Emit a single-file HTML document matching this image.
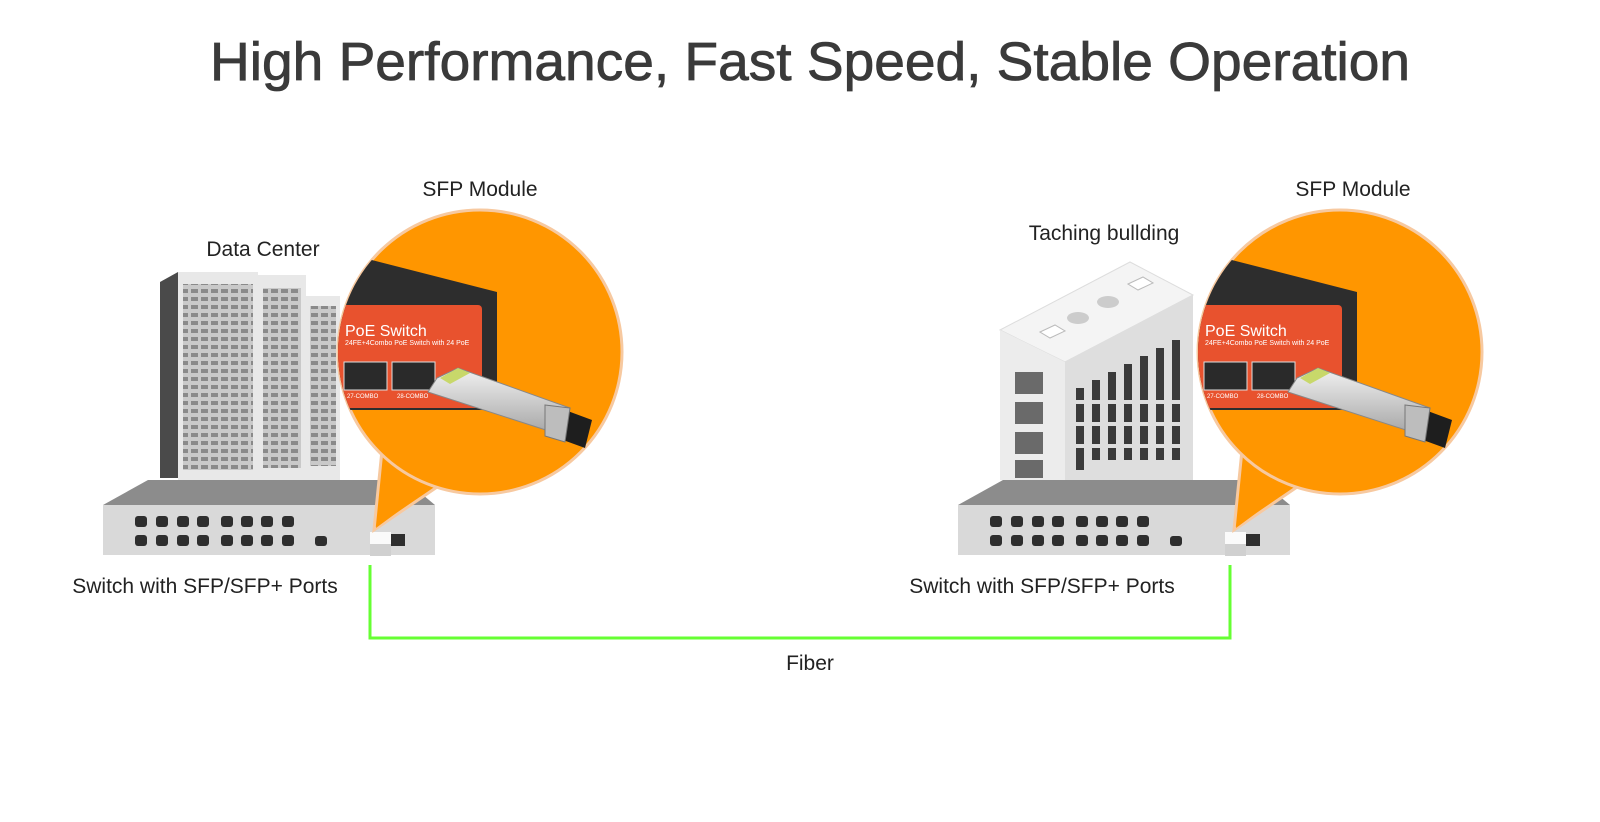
<!DOCTYPE html>
<html><head><meta charset="utf-8"><style>
html,body{margin:0;padding:0;background:#fff;width:1600px;height:822px;overflow:hidden}
svg{display:block}
text{font-family:"Liberation Sans",Arial,sans-serif}
</style></head><body>
<svg width="1600" height="822" viewBox="0 0 1600 822" xmlns="http://www.w3.org/2000/svg">
<defs>
<pattern id="rk" width="10" height="8" patternUnits="userSpaceOnUse">
<rect width="10" height="8" fill="#c9c9c9"/><rect x="1" y="1" width="7" height="4" fill="#8a8a8a"/>
</pattern>
<clipPath id="c1"><circle cx="480" cy="352" r="142"/></clipPath>
<linearGradient id="sv" x1="0" y1="0" x2="0" y2="1"><stop offset="0" stop-color="#f2f2f2"/><stop offset="1" stop-color="#a8a8a8"/></linearGradient>
</defs>

<text x="810" y="80" font-size="54" fill="#3a3a3a" stroke="#3a3a3a" stroke-width="0.8" text-anchor="middle" textLength="1200" lengthAdjust="spacingAndGlyphs">High Performance, Fast Speed, Stable Operation</text>

<!-- Server racks -->
<polygon points="160,282 178,272 178,478 160,478" fill="#4a4a4a"/>
<rect x="178" y="272" width="80" height="208" fill="#e8e8e8"/>
<rect x="183" y="284" width="70" height="186" fill="url(#rk)"/>
<rect x="258" y="275" width="48" height="205" fill="#e8e8e8"/>
<rect x="263" y="288" width="38" height="180" fill="url(#rk)"/>
<rect x="306" y="296" width="34" height="184" fill="#e8e8e8"/>
<rect x="310" y="306" width="26" height="160" fill="url(#rk)"/>

<!-- Building -->
<polygon points="1000,330 1130,262 1193,295 1065,362" fill="#f4f4f4" stroke="#ddd"/>
<polygon points="1000,330 1065,362 1065,480 1000,480" fill="#ececec"/>
<polygon points="1065,362 1193,295 1193,480 1065,480" fill="#dedede"/>
<g fill="#6a6a6a"><rect x="1015" y="372" width="28" height="22"/><rect x="1015" y="402" width="28" height="22"/><rect x="1015" y="432" width="28" height="22"/><rect x="1015" y="460" width="28" height="18"/></g>
<g fill="#3a3a3a">
<rect x="1092" y="380" width="8" height="80"/><rect x="1108" y="372" width="8" height="88"/><rect x="1124" y="364" width="8" height="96"/><rect x="1140" y="356" width="8" height="104"/><rect x="1156" y="348" width="8" height="112"/><rect x="1172" y="340" width="8" height="120"/><rect x="1076" y="388" width="8" height="82"/>
</g>
<g fill="#dedede"><rect x="1070" y="400" width="115" height="4"/><rect x="1070" y="422" width="115" height="4"/><rect x="1070" y="444" width="115" height="4"/></g>
<ellipse cx="1078" cy="318" rx="11" ry="6" fill="#ccc"/><ellipse cx="1108" cy="302" rx="11" ry="6" fill="#ccc"/>
<polygon points="1040,332 1055,325 1065,331 1050,338" fill="#fff" stroke="#bbb"/>
<polygon points="1128,284 1143,277 1153,283 1138,290" fill="#fff" stroke="#bbb"/>

<!-- Switches -->
<g id="sw">
<polygon points="148,480 405,480 435,505 103,505" fill="#8c8c8c"/>
<rect x="103" y="505" width="332" height="50" fill="#d9d9d9"/>
<g fill="#2e2e2e">
<rect x="135" y="516" width="12" height="11" rx="3"/><rect x="156" y="516" width="12" height="11" rx="3"/><rect x="177" y="516" width="12" height="11" rx="3"/><rect x="197" y="516" width="12" height="11" rx="3"/><rect x="221" y="516" width="12" height="11" rx="3"/><rect x="241" y="516" width="12" height="11" rx="3"/><rect x="261" y="516" width="12" height="11" rx="3"/><rect x="282" y="516" width="12" height="11" rx="3"/>
<rect x="135" y="535" width="12" height="11" rx="3"/><rect x="156" y="535" width="12" height="11" rx="3"/><rect x="177" y="535" width="12" height="11" rx="3"/><rect x="197" y="535" width="12" height="11" rx="3"/><rect x="221" y="535" width="12" height="11" rx="3"/><rect x="241" y="535" width="12" height="11" rx="3"/><rect x="261" y="535" width="12" height="11" rx="3"/><rect x="282" y="535" width="12" height="11" rx="3"/>
<rect x="315" y="536" width="12" height="10" rx="3"/><rect x="390" y="534" width="15" height="12"/>
</g>
<rect x="370" y="532" width="21" height="12" fill="#fafafa"/><rect x="370" y="544" width="21" height="12" fill="#d0d0d0"/>
</g>
<use href="#sw" x="855"/>

<!-- Bubble -->
<g id="bub">
<polygon points="383,440 374,530 440,485" fill="#ff9600" stroke="#f7c9a0" stroke-width="3"/>
<circle cx="480" cy="352" r="142" fill="#ff9600" stroke="#f7c9a0" stroke-width="3"/>
<polygon points="386,482 376,528 430,488" fill="#ff9600"/>
<g clip-path="url(#c1)">
<polygon points="360,257 497,292 497,410 330,410 330,262" fill="#2d2d2d"/>
<rect x="330" y="305" width="152" height="103" rx="4" fill="#e8522e"/>
<text x="345" y="336" font-size="16" fill="#fff">PoE Switch</text>
<text x="345" y="345" font-size="7" fill="#fff">24FE+4Combo PoE Switch with 24 PoE</text>
<rect x="344" y="362" width="43" height="28" fill="#2a2a2a" stroke="#ddd"/>
<rect x="392" y="362" width="43" height="28" fill="#2a2a2a" stroke="#ddd"/>
<text x="347" y="398" font-size="6" fill="#fff">27-COMBO</text>
<text x="397" y="398" font-size="6" fill="#fff">28-COMBO</text>
</g>
<polygon points="437,378 458,368 570,408 552,432 428,392" fill="url(#sv)" stroke="#888"/>
<polygon points="440,378 458,368 470,373 450,384" fill="#c8d86a"/>
<polygon points="565,410 592,420 585,448 563,440" fill="#1e1e1e"/>
<polygon points="545,405 570,408 565,442 545,436" fill="#bdbdbd" stroke="#777"/>
</g>
<use href="#bub" x="860"/>

<!-- Fiber -->
<polyline points="370,565 370,638 1230,638 1230,565" fill="none" stroke="#66ff33" stroke-width="3"/>

<!-- Labels -->
<text x="263" y="256" font-size="21" fill="#222" text-anchor="middle">Data Center</text>
<text x="480" y="196" font-size="21" fill="#222" text-anchor="middle">SFP Module</text>
<text x="1353" y="196" font-size="21" fill="#222" text-anchor="middle">SFP Module</text>
<text x="1104" y="240" font-size="21" fill="#222" text-anchor="middle">Taching bullding</text>
<text x="205" y="593" font-size="21" fill="#222" text-anchor="middle">Switch with SFP/SFP+ Ports</text>
<text x="1042" y="593" font-size="21" fill="#222" text-anchor="middle">Switch with SFP/SFP+ Ports</text>
<text x="810" y="670" font-size="21" fill="#222" text-anchor="middle">Fiber</text>
</svg>
</body></html>
